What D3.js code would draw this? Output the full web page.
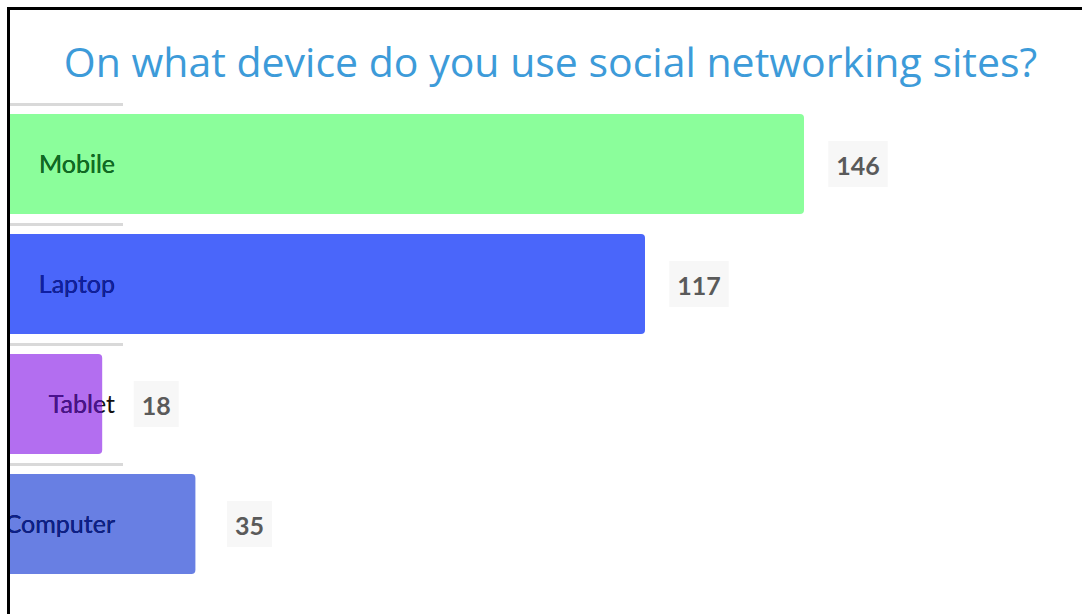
<!DOCTYPE html>
<html>
<head>
<meta charset="utf-8">
<script src="https://cdn.jsdelivr.net/npm/d3@7"></script>
<style>
  html, body { margin: 0; padding: 0; background: #ffffff; }
  svg { display: block; }
</style>
</head>
<body>
<svg id="chart" width="1082" height="614"></svg>
<script>
// Survey answers: device used for social networking
const categories = ["Mobile", "Laptop", "Tablet", "Computer"];
const counts = [146, 117, 18, 35];
const barColors = ["#8bfe9b", "#4a66fa", "#b36ef0", "#687fe3"];
const labelColors = ["#0d6e22", "#0e1fa3", "#4b1190", "#0b1f8c"];
const title = "On what device do you use social networking sites?";

const svg = d3.select("#chart");
const W = 1082, H = 614;

// Horizontal value scale (bars grow from just behind the left frame)
const x = d3.scaleLinear().domain([0, 146]).range([3.5, 804]);

// One band per category; each band holds a separator line and a bar
const y = d3.scaleBand().domain(categories).range([104, 584]).paddingInner(0).paddingOuter(0);
const barOffset = 10, barHeight = 100;

svg.append("rect").attr("width", W).attr("height", H).attr("fill", "#ffffff");

const defs = svg.append("defs");
defs.append("clipPath").attr("id", "panel")
  .append("rect").attr("x", 10).attr("y", 10).attr("width", W - 10).attr("height", H - 10);

const panel = svg.append("g").attr("clip-path", "url(#panel)");

// Title
panel.append("text")
  .attr("x", 550.5).attr("y", 77)
  .attr("text-anchor", "middle")
  .attr("font-family", "'Open Sans', sans-serif")
  .attr("font-size", 41)
  .attr("fill", "#3d9bd9")
  .text(title);

const rows = panel.append("g").selectAll("g")
  .data(categories.map((c, i) => ({ cat: c, value: counts[i], color: barColors[i], lc: labelColors[i], i })))
  .join("g")
  .attr("transform", d => `translate(0,${y(d.cat)})`);

// Separator line above each bar
rows.append("line")
  .attr("x1", 10).attr("x2", 123)
  .attr("y1", 0.5).attr("y2", 0.5)
  .attr("stroke", "#d9d9d9").attr("stroke-width", 3);

// Bars
rows.each(function (d) {
  defs.append("clipPath").attr("id", "clip-" + d.i)
    .append("rect")
    .attr("x", x(0)).attr("y", barOffset)
    .attr("width", x(d.value) - x(0)).attr("height", barHeight)
    .attr("rx", 4).attr("ry", 4);
});

rows.append("rect")
  .attr("x", x(0)).attr("y", barOffset)
  .attr("width", d => x(d.value) - x(0)).attr("height", barHeight)
  .attr("rx", 4).attr("ry", 4)
  .attr("fill", d => d.color);

// Category labels: dark text outside the bar, tinted inside it
const labelX = 115, labelY = barOffset + barHeight / 2;
rows.append("text")
  .attr("x", labelX).attr("y", labelY).attr("dy", "0.35em")
  .attr("text-anchor", "end")
  .attr("font-family", "Lato, sans-serif")
  .attr("font-size", 25)
  .attr("fill", "#111111")
  .text(d => d.cat);
rows.append("text")
  .attr("x", labelX).attr("y", labelY).attr("dy", "0.35em")
  .attr("text-anchor", "end")
  .attr("font-family", "Lato, sans-serif")
  .attr("font-size", 25)
  .attr("fill", d => d.lc)
  .attr("clip-path", d => `url(#clip-${d.i})`)
  .text(d => d.cat);

// Value tags to the right of each bar
const tag = rows.append("g")
  .attr("transform", d => `translate(${x(d.value) + 54},${labelY})`);
tag.append("rect")
  .attr("fill", "#f7f7f7");
tag.append("text")
  .attr("text-anchor", "middle").attr("dy", "0.42em")
  .attr("font-family", "Lato, sans-serif")
  .attr("font-size", 25)
  .attr("font-weight", 700)
  .attr("fill", "#5a5a5a")
  .text(d => d.value);
tag.each(function () {
  const g = d3.select(this);
  const bb = g.select("text").node().getBBox();
  g.select("rect")
    .attr("x", -bb.width / 2 - 8).attr("width", bb.width + 16)
    .attr("y", -23).attr("height", 46);
});

// Frame along the top and left edges
svg.append("line").attr("x1", 8).attr("x2", W).attr("y1", 8.5).attr("y2", 8.5)
  .attr("stroke", "#000").attr("stroke-width", 3);
svg.append("line").attr("x1", 8.5).attr("x2", 8.5).attr("y1", 7).attr("y2", H)
  .attr("stroke", "#000").attr("stroke-width", 3);
</script>
</body>
</html>
